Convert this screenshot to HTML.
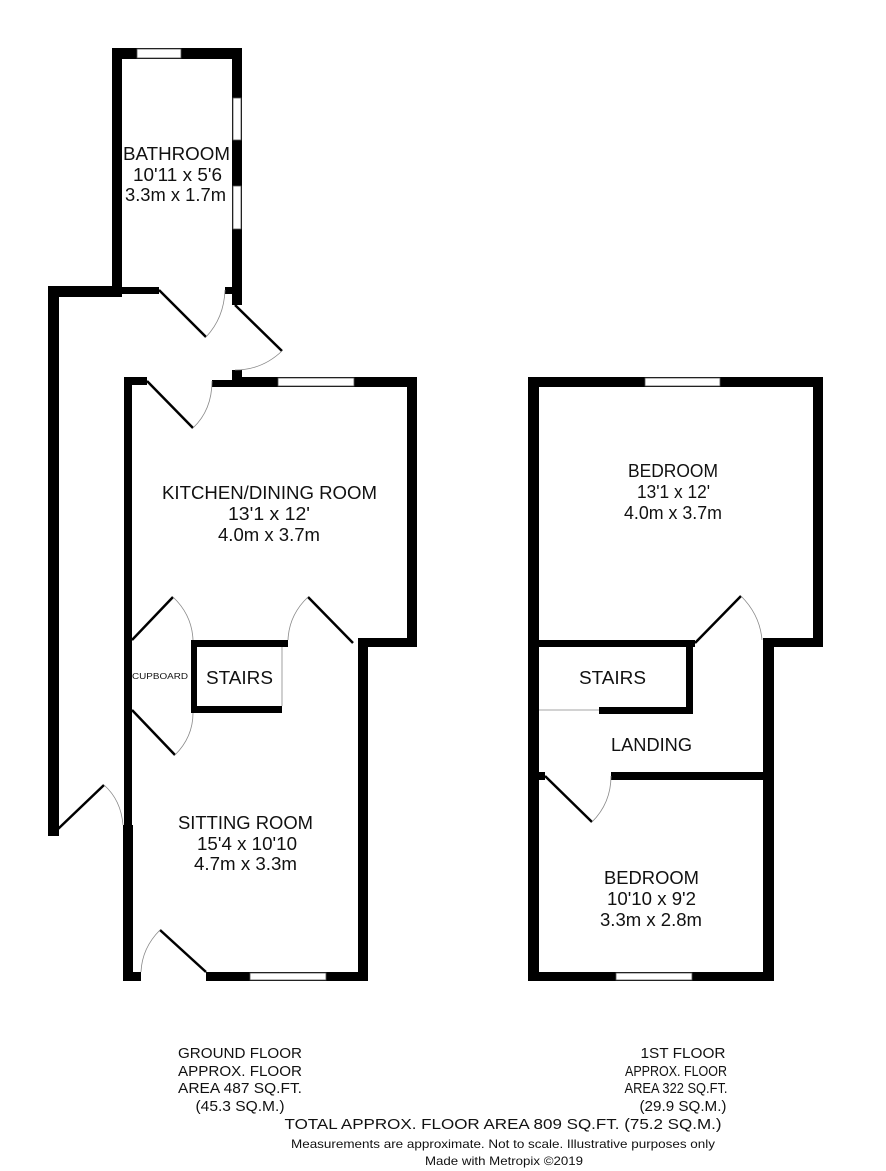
<!DOCTYPE html>
<html><head><meta charset="utf-8"><style>
html,body{margin:0;padding:0;background:#fff;}
svg{display:block}
text{font-family:"Liberation Sans",Arial,sans-serif;fill:#111;}
</style></head><body>
<svg width="886" height="1171" viewBox="0 0 886 1171" xmlns="http://www.w3.org/2000/svg">
<g fill="#000">
<rect x="112" y="48" width="130" height="11"/>
<rect x="112" y="48" width="10" height="249"/>
<rect x="232" y="48" width="10" height="257"/>
<rect x="225" y="287" width="10" height="7"/>
<rect x="122" y="287" width="37" height="7"/>
<rect x="48" y="286" width="74" height="11"/>
<rect x="48" y="286" width="11" height="550"/>
<rect x="232" y="370" width="10" height="17"/>
<rect x="232" y="377" width="185" height="10"/>
<rect x="212" y="380" width="22" height="7"/>
<rect x="124" y="377" width="23" height="8"/>
<rect x="124" y="377" width="8" height="450"/>
<rect x="407" y="377" width="10" height="270"/>
<rect x="358" y="638" width="59" height="9"/>
<rect x="358" y="638" width="10" height="343"/>
<rect x="123" y="825" width="10" height="156"/>
<rect x="123" y="972" width="18" height="9"/>
<rect x="206" y="972" width="162" height="9"/>
<rect x="191" y="640" width="97" height="7"/>
<rect x="191" y="640" width="6" height="73"/>
<rect x="191" y="706" width="91" height="7"/>
<rect x="528" y="377" width="295" height="10"/>
<rect x="528" y="377" width="11" height="604"/>
<rect x="813" y="377" width="10" height="270"/>
<rect x="763" y="638" width="60" height="9"/>
<rect x="763" y="638" width="11" height="343"/>
<rect x="528" y="972" width="246" height="9"/>
<rect x="539" y="640" width="156" height="7"/>
<rect x="686" y="640" width="7" height="74"/>
<rect x="599" y="707" width="94" height="7"/>
<rect x="539" y="772" width="6" height="8"/>
<rect x="611" y="772" width="152" height="8"/>
</g>
<g fill="#fff" stroke="#555" stroke-width="0.8">
<rect x="137" y="49" width="44" height="9"/>
<rect x="233" y="98" width="8" height="42"/>
<rect x="233" y="186" width="8" height="43"/>
<rect x="278" y="378" width="76" height="8"/>
<rect x="250" y="973" width="76" height="7"/>
<rect x="645" y="378" width="75" height="8"/>
<rect x="616" y="973" width="76" height="7"/>
</g>
<g stroke="#000" stroke-width="2.5" fill="none">
<line x1="159" y1="290" x2="206" y2="337"/>
<line x1="235" y1="305" x2="282" y2="351"/>
<line x1="147" y1="381" x2="193" y2="428"/>
<line x1="132" y1="640" x2="173" y2="597"/>
<line x1="132" y1="710" x2="175" y2="755"/>
<line x1="308" y1="597" x2="353" y2="643"/>
<line x1="58" y1="829" x2="104" y2="785"/>
<line x1="160" y1="930" x2="206" y2="972"/>
<line x1="695" y1="643" x2="741" y2="596"/>
<line x1="545" y1="776" x2="592" y2="822"/>
</g>
<g stroke="#888" stroke-width="0.8" fill="none">
<path d="M206 337 Q224 318 225 290"/>
<path d="M282 351 Q262 370 235 370"/>
<path d="M193 428 Q212 410 212 381"/>
<path d="M173 597 Q192 615 193 640"/>
<path d="M175 755 Q193 737 193 713"/>
<path d="M308 597 Q289 615 288 640"/>
<path d="M104 785 Q121 800 123 825"/>
<path d="M160 930 Q142 948 141 972"/>
<path d="M741 596 Q760 615 762 640"/>
<path d="M592 822 Q611 803 611 776"/>
<line x1="282" y1="647" x2="282" y2="706"/>
<line x1="539" y1="710" x2="599" y2="710"/>
</g>
<g font-size="18" text-anchor="start">
<text x="123" y="160" textLength="107" lengthAdjust="spacingAndGlyphs">BATHROOM</text>
<text x="133" y="181" textLength="89" lengthAdjust="spacingAndGlyphs">10'11 x 5'6</text>
<text x="125" y="201" textLength="101" lengthAdjust="spacingAndGlyphs">3.3m x 1.7m</text>
<text x="162" y="499" textLength="215" lengthAdjust="spacingAndGlyphs">KITCHEN/DINING ROOM</text>
<text x="228" y="520" textLength="82" lengthAdjust="spacingAndGlyphs">13'1 x 12'</text>
<text x="218" y="541" textLength="102" lengthAdjust="spacingAndGlyphs">4.0m x 3.7m</text>
<text x="206" y="684" textLength="67" lengthAdjust="spacingAndGlyphs">STAIRS</text>
<text x="178" y="829" textLength="135" lengthAdjust="spacingAndGlyphs">SITTING ROOM</text>
<text x="197" y="850" textLength="100" lengthAdjust="spacingAndGlyphs">15'4 x 10'10</text>
<text x="194" y="870" textLength="103" lengthAdjust="spacingAndGlyphs">4.7m x 3.3m</text>
<text x="628" y="477" textLength="90" lengthAdjust="spacingAndGlyphs">BEDROOM</text>
<text x="637" y="498" textLength="73" lengthAdjust="spacingAndGlyphs">13'1 x 12'</text>
<text x="624" y="519" textLength="98" lengthAdjust="spacingAndGlyphs">4.0m x 3.7m</text>
<text x="579" y="684" textLength="67" lengthAdjust="spacingAndGlyphs">STAIRS</text>
<text x="611" y="751" textLength="81" lengthAdjust="spacingAndGlyphs">LANDING</text>
<text x="604" y="884" textLength="95" lengthAdjust="spacingAndGlyphs">BEDROOM</text>
<text x="607" y="905" textLength="89" lengthAdjust="spacingAndGlyphs">10'10 x 9'2</text>
<text x="600" y="926" textLength="102" lengthAdjust="spacingAndGlyphs">3.3m x 2.8m</text>
</g>
<text x="132" y="679" font-size="8" textLength="56" lengthAdjust="spacingAndGlyphs">CUPBOARD</text>
<g font-size="15" text-anchor="middle">
<text x="240" y="1058" textLength="124" lengthAdjust="spacingAndGlyphs">GROUND FLOOR</text>
<text x="240" y="1076" textLength="124" lengthAdjust="spacingAndGlyphs">APPROX. FLOOR</text>
<text x="240" y="1093" textLength="124" lengthAdjust="spacingAndGlyphs">AREA 487 SQ.FT.</text>
<text x="240" y="1111" textLength="89" lengthAdjust="spacingAndGlyphs">(45.3 SQ.M.)</text>
<text x="683" y="1058" textLength="85" lengthAdjust="spacingAndGlyphs">1ST FLOOR</text>
<text x="676" y="1076" textLength="102" lengthAdjust="spacingAndGlyphs">APPROX. FLOOR</text>
<text x="676" y="1093" textLength="103" lengthAdjust="spacingAndGlyphs">AREA 322 SQ.FT.</text>
<text x="683" y="1111" textLength="87" lengthAdjust="spacingAndGlyphs">(29.9 SQ.M.)</text>
<text x="503" y="1129" textLength="437" lengthAdjust="spacingAndGlyphs">TOTAL APPROX. FLOOR AREA 809 SQ.FT. (75.2 SQ.M.)</text>
</g>
<g font-size="12" text-anchor="middle">
<text x="503" y="1148" textLength="424" lengthAdjust="spacingAndGlyphs">Measurements are approximate.  Not to scale.  Illustrative purposes only</text>
<text x="504" y="1165" textLength="158" lengthAdjust="spacingAndGlyphs">Made with Metropix ©2019</text>
</g>
</svg>
</body></html>
